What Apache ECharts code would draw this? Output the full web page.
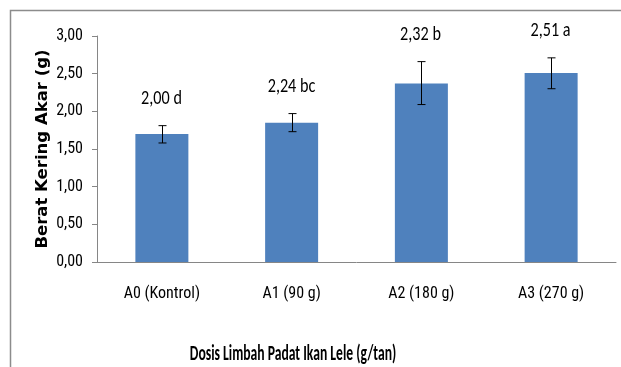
<!DOCTYPE html>
<html>
<head>
<meta charset="utf-8">
<script src="https://cdn.jsdelivr.net/npm/echarts@6/dist/echarts.min.js"></script>
<style>
  html, body { margin: 0; padding: 0; background: #fff; }
  #chart { width: 621px; height: 367px; }
</style>
</head>
<body>
<div id="chart"></div>
<script>
// data
const categories = ['A0 (Kontrol)', 'A1 (90 g)', 'A2 (180 g)', 'A3 (270 g)'];
const barValues = [1.70, 1.85, 2.37, 2.51];
const errLow = [0.12, 0.12, 0.28, 0.21];
const errHigh = [0.11, 0.12, 0.29, 0.20];
const notes = ['2,00 d', '2,24 bc', '2,32 b', '2,51 a'];
const yTicks = [0, 0.5, 1, 1.5, 2, 2.5, 3];

// the original uses a squeezed Calibri look
const CALIBRI = "Carlito, Calibri, 'Liberation Sans', sans-serif";
const NARROW = "'Roboto Condensed', Carlito, sans-serif";

const errData = barValues.map((v, i) => [i, v - errLow[i], v + errHigh[i]]);

const chart = echarts.init(document.getElementById('chart'));
chart.setOption({
    backgroundColor: '#fff',
    animation: false,
    grid: { left: 97, right: 5, top: 36, bottom: 105, containLabel: false },
    graphic: [{
        type: 'rect', silent: true, z: -1,
        shape: { x: 10.5, y: 10.5, width: 700, height: 500 },
        style: { fill: 'none', stroke: '#8c8c8c', lineWidth: 1.5 }
    }, {
        type: 'text', x: 293, y: 354, scaleX: 0.62,
        style: {
            text: 'Dosis Limbah Padat Ikan Lele (g/tan)',
            fill: '#000', font: "bold 22px " + CALIBRI,
            align: 'center', verticalAlign: 'middle'
        }
    }],
    xAxis: {
        type: 'category',
        data: categories,
        axisLine: { lineStyle: { color: '#868686', width: 1 } },
        axisTick: { show: false },
        axisLabel: { color: '#000', fontFamily: NARROW, fontSize: 16, margin: 24 }
    },
    yAxis: {
        type: 'value',
        min: yTicks[0], max: yTicks[yTicks.length - 1], interval: 0.5,
        axisLine: { show: true, lineStyle: { color: '#868686', width: 1 } },
        axisTick: { show: true, length: 5, lineStyle: { color: '#868686' } },
        splitLine: { show: false },
        axisLabel: {
            color: '#000', fontFamily: NARROW, fontSize: 16, margin: 14,
            formatter: v => v.toFixed(2).replace('.', ',')
        },
        name: 'Berat Kering Akar (g)',
        nameLocation: 'middle',
        nameGap: 46,
        nameMoveOverlap: false,
        nameTextStyle: { color: '#000', fontFamily: "'DejaVu Sans', sans-serif", fontWeight: 'bold', fontSize: 16.5 }
    },
    series: [{
        type: 'bar',
        data: barValues,
        barWidth: 53,
        itemStyle: { color: '#4F81BD' }
    }, {
        type: 'custom',
        data: errData,
        z: 5,
        renderItem: (params, api) => {
            const lo = api.coord([api.value(0), api.value(1)]);
            const hi = api.coord([api.value(0), api.value(2)]);
            const x = Math.round(lo[0]) + 0.5;
            const cap = 4;
            const st = { stroke: '#000', lineWidth: 1 };
            return {
                type: 'group',
                children: [
                    { type: 'line', shape: { x1: x, y1: hi[1], x2: x, y2: lo[1] }, style: st },
                    { type: 'line', shape: { x1: x - cap, y1: hi[1], x2: x + cap, y2: hi[1] }, style: st },
                    { type: 'line', shape: { x1: x - cap, y1: lo[1], x2: x + cap, y2: lo[1] }, style: st },
                    {
                        type: 'text', x: x - 1, y: hi[1] - 27, scaleX: 0.77,
                        style: {
                            text: notes[params.dataIndex],
                            fill: '#000', font: "21px " + CALIBRI,
                            align: 'center', verticalAlign: 'middle'
                        }
                    }
                ]
            };
        }
    }]
});
</script>
</body>
</html>
